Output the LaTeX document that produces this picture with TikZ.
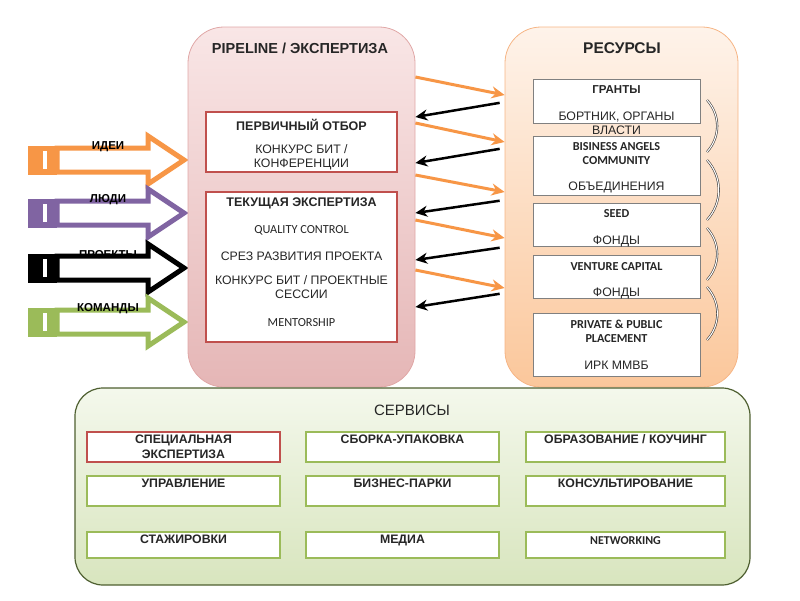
\documentclass[tikz,border=0pt]{standalone}
\usepackage{fontspec}
\setmainfont{Liberation Sans}
\newfontfamily\calfont{Carlito}
\usetikzlibrary{arrows.meta,positioning}
\definecolor{pipetop}{HTML}{F9E6E6}
\definecolor{pipebot}{HTML}{E5B6B6}
\definecolor{pipeline}{HTML}{E0A7A6}
\definecolor{restop}{HTML}{FEF3EA}
\definecolor{resbot}{HTML}{FBC79B}
\definecolor{resline}{HTML}{F6B585}
\definecolor{servtop}{HTML}{F4F8EC}
\definecolor{servbot}{HTML}{D8E5BE}
\definecolor{servline}{HTML}{4E5F30}
\definecolor{boxred}{HTML}{C0504D}
\definecolor{boxgreen}{HTML}{9BBB59}
\definecolor{arrorange}{HTML}{F79646}
\definecolor{arrpurple}{HTML}{8064A2}
\definecolor{arrgreen}{HTML}{9BBB59}
\definecolor{txt}{HTML}{262626}
\tikzset{
  pipebox/.style={draw=pipeline, line width=0.8pt, rounded corners=36pt, top color=pipetop, bottom color=pipebot, inner sep=0pt},
  resbox/.style={draw=resline, line width=0.8pt, rounded corners=36pt, top color=restop, bottom color=resbot, inner sep=0pt},
  servbox/.style={draw=servline, line width=1.2pt, rounded corners=28pt, top color=servtop, bottom color=servbot, inner sep=0pt},
  redbox/.style={draw=boxred, line width=1.6pt, fill=white, inner sep=0pt, minimum width=191pt},
  greybox/.style={draw=black!50, line width=0.8pt, fill=white, inner sep=0pt, minimum width=167pt},
  greenbox/.style={draw=boxgreen, line width=1.8pt, fill=white, inner sep=0pt, minimum width=193pt, minimum height=30pt},
  title/.style={font=\bfseries\fontsize{14.5}{16}\selectfont, text=txt, inner sep=0pt},
  headtext/.style={font=\bfseries\fontsize{12.5}{14}\selectfont, text=txt, inner sep=0pt},
  bodytext/.style={font=\fontsize{12.3}{14}\selectfont, text=txt, inner sep=0pt, align=center},
  smalltext/.style={font=\calfont\fontsize{12.3}{14}\selectfont, text=txt, inner sep=0pt},
  enghead/.style={font=\calfont\bfseries\fontsize{12.2}{14}\selectfont, text=txt, inner sep=0pt, align=center},
  svtext/.style={font=\bfseries\fontsize{12.3}{15}\selectfont, text=txt, inner sep=0pt, align=center},
  inlabel/.style={font=\bfseries\fontsize{11.5}{13}\selectfont, text=black, inner sep=0pt},
  orangearrow/.style={draw=arrorange, line width=3pt, -{Stealth[length=13pt, width=12pt]}},
  blackarrow/.style={draw=black, line width=2.5pt, -{Stealth[length=12pt, width=11pt]}},
  bracketarc/.style={draw=black!75, double=white, double distance=1pt, line width=0.6pt},
}
\begin{document}
\begin{tikzpicture}[x=1pt,y=-1pt]
\useasboundingbox (0,0) rectangle (800,600);

% input arrows on the left
\foreach \clr/\cy/\lbl [count=\i] in {arrorange/160/ИДЕИ, arrpurple/213/ЛЮДИ, black/268/ПРОЕКТЫ, arrgreen/322/КОМАНДЫ}{
  \fill[\clr] (28,\cy-14.5) rectangle (57,\cy+14.5);
  \fill[white] (43,\cy-9) rectangle (47,\cy+9);
  \draw[\clr, line width=5pt, fill=white, line join=miter] (57,\cy-12) -- (148,\cy-12) -- (148,\cy-24) -- (184,\cy) -- (148,\cy+24) -- (148,\cy+12) -- (57,\cy+12) -- cycle;
  \node[inlabel] (in\i) at (108,\cy-13) {\lbl};
}

% pipeline
\node[pipebox, minimum width=227pt, minimum height=360pt] (pipe) at (301.5,207) {};
\node[title] (pipetitle) at (300,48) {PIPELINE / ЭКСПЕРТИЗА};
\node[redbox, minimum height=60pt] (first) at (301.5,142) {};
\node[headtext] (firsthead) at (301.5,125) {ПЕРВИЧНЫЙ ОТБОР};
\node[bodytext] (firstbody) at (301.5,157) {КОНКУРС БИТ /\\КОНФЕРЕНЦИИ};
\node[redbox, minimum height=150pt] (current) at (301.5,267) {};
\node[headtext] (curhead) at (301.5,203) {ТЕКУЩАЯ ЭКСПЕРТИЗА};
\node[smalltext] (quality) at (301.5,230) {QUALITY CONTROL};
\node[bodytext] (srez) at (301.5,256) {СРЕЗ РАЗВИТИЯ ПРОЕКТА};
\node[bodytext] (sessions) at (301.5,287) {КОНКУРС БИТ / ПРОЕКТНЫЕ\\СЕССИИ};
\node[smalltext] (mentor) at (301.5,323) {MENTORSHIP};

% resources
\node[resbox, minimum width=233pt, minimum height=360pt] (res) at (621.5,207) {};
\node[title, font=\bfseries\fontsize{15.5}{17}\selectfont] (restitle) at (622,48) {РЕСУРСЫ};
\node[greybox, minimum height=44pt] (grants) at (616.5,101) {};
\node[headtext, font=\bfseries\fontsize{11.5}{13}\selectfont] (grantshead) at (616.5,90) {ГРАНТЫ};
\node[bodytext] (grantsbody) at (616.5,123) {БОРТНИК, ОРГАНЫ\\ВЛАСТИ};
\node[greybox, minimum height=59pt] (angels) at (616.5,165.5) {};
\node[enghead] (angelshead) at (616.5,154) {BISINESS ANGELS\\COMMUNITY};
\node[bodytext] (angelsbody) at (616.5,187) {ОБЪЕДИНЕНИЯ};
\node[greybox, minimum height=43pt] (seed) at (616.5,224.5) {};
\node[enghead] (seedhead) at (616.5,214) {SEED};
\node[bodytext] (seedbody) at (616.5,241) {ФОНДЫ};
\node[greybox, minimum height=43pt] (venture) at (616.5,276.5) {};
\node[enghead] (venturehead) at (616.5,267) {VENTURE CAPITAL};
\node[bodytext] (venturebody) at (616.5,293) {ФОНДЫ};
\node[greybox, minimum height=63pt] (placement) at (616.5,344.5) {};
\node[enghead] (placehead) at (616.5,331) {PRIVATE \& PUBLIC\\PLACEMENT};
\node[bodytext] (placebody) at (616.5,365) {ИРК ММВБ};

% brackets between the resources
\foreach \ya/\yb in {100/152, 160/220, 228/280, 287/340}
  \draw[bracketarc] (707,\ya) to[bend left=42] (707,\yb);

% flows between pipeline and resources
\foreach \ys/\ye in {77/95, 123/142, 175/192, 220/238, 270/288}
  \draw[orangearrow] (pipe.east |- 0,\ys) -- (res.west |- 0,\ye);
\foreach \ys/\ye in {102/117, 148/163, 200/213, 247/260, 293/307}
  \draw[blackarrow, shorten <=5pt] (res.west |- 0,\ys) -- (pipe.east |- 0,\ye);

% services
\node[servbox, minimum width=675pt, minimum height=197pt] (serv) at (412.5,486.5) {};
\node[title, font=\fontsize{15}{17}\selectfont] (servtitle) at (412,410) {СЕРВИСЫ};
\node[greenbox, draw=boxred] (s11) at (183.5,447) {};
\node[svtext, below=3.5pt of s11.north] {СПЕЦИАЛЬНАЯ\\ЭКСПЕРТИЗА};
\node[greenbox] (s12) at (402.5,447) {};
\node[svtext, below=3.5pt of s12.north] {СБОРКА-УПАКОВКА};
\node[greenbox, minimum width=199pt] (s13) at (625.5,447) {};
\node[svtext, below=3.5pt of s13.north] {ОБРАЗОВАНИЕ / КОУЧИНГ};
\node[greenbox] (s21) at (183.5,491) {};
\node[svtext, below=3.5pt of s21.north] {УПРАВЛЕНИЕ};
\node[greenbox] (s22) at (402.5,491) {};
\node[svtext, below=3.5pt of s22.north] {БИЗНЕС-ПАРКИ};
\node[greenbox, minimum width=199pt] (s23) at (625.5,491) {};
\node[svtext, below=3.5pt of s23.north] {КОНСУЛЬТИРОВАНИЕ};
\node[greenbox, minimum height=26pt] (s31) at (183.5,545) {};
\node[svtext, below=4pt of s31.north] {СТАЖИРОВКИ};
\node[greenbox, minimum height=26pt] (s32) at (402.5,545) {};
\node[svtext, below=4pt of s32.north] {МЕДИА};
\node[greenbox, minimum width=199pt, minimum height=26pt] (s33) at (625.5,545) {};
\node[enghead, font=\calfont\bfseries\fontsize{12}{14}\selectfont, below=5pt of s33.north] {NETWORKING};
\end{tikzpicture}
\end{document}
